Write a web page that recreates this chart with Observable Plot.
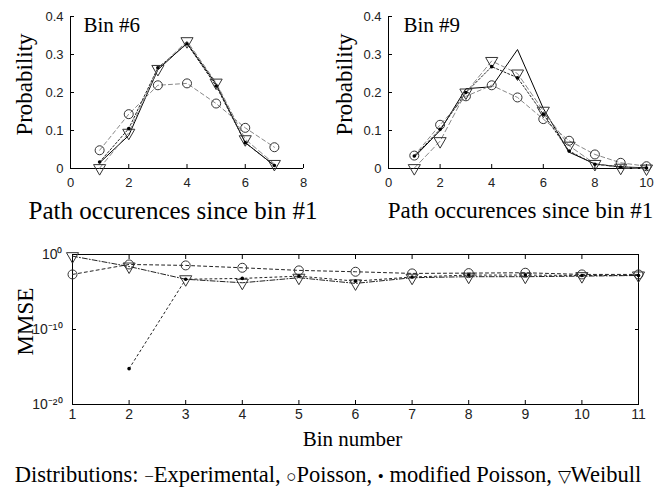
<!DOCTYPE html>
<html>
<head>
<meta charset="utf-8">
<script src="https://cdn.jsdelivr.net/npm/d3@7"></script>
<script src="https://cdn.jsdelivr.net/npm/@observablehq/plot@0.6"></script>
<style>
  body { margin: 0; background: #fff; }
  #wrap { position: relative; width: 656px; height: 488px; overflow: hidden; background: #fff; }
  #wrap > svg { position: absolute; }
  #caption { position: absolute; left: 0; top: 463px; width: 656px; text-align: center;
             font-family: "Liberation Serif", "Times New Roman", serif; font-size: 22.5px; line-height: 24px; color: #000; white-space: nowrap; }
  #caption .sym { font-size: 17px; }
</style>
</head>
<body>
<div id="wrap"><div id="caption">Distributions: <span class="sym">−</span>Experimental, <span class="sym">○</span>Poisson, <span class="sym">•</span> modified Poisson, <span class="sym">▽</span>Weibull</div></div>
<script>
// ---------------- data ----------------
const bin6Occurrences = [1, 2, 3, 4, 5, 6, 7];
const bin6Experimental = [0.015, 0.087, 0.26, 0.33, 0.222, 0.068, 0.008];
const bin6Poisson      = [0.048, 0.143, 0.219, 0.224, 0.171, 0.107, 0.056];
const bin6ModPoisson   = [0.017, 0.105, 0.265, 0.328, 0.217, 0.068, 0.008];
const bin6Weibull      = [0.001, 0.094, 0.262, 0.335, 0.226, 0.077, 0.012];

const bin9Occurrences = [1, 2, 3, 4, 5, 6, 7, 8, 9, 10];
const bin9Experimental = [0.03, 0.1, 0.21, 0.215, 0.313, 0.158, 0.043, 0.012, 0.004, 0.002];
const bin9Poisson      = [0.034, 0.115, 0.19, 0.219, 0.187, 0.13, 0.073, 0.037, 0.015, 0.006];
const bin9ModPoisson   = [0.033, 0.103, 0.2, 0.268, 0.239, 0.143, 0.046, 0.011, 0.004, 0.001];
const bin9Weibull      = [0.001, 0.072, 0.2, 0.283, 0.25, 0.152, 0.06, 0.012, 0.002, 0.0];

const binNumbers     = [1, 2, 3, 4, 5, 6, 7, 8, 9, 10, 11];
const mmsePoisson    = [2.2e-3, 0.047, 0.035, 0.017, 7.6e-3, 5e-3, 3e-3, 3.3e-3, 3.7e-3, 2.2e-3, 2.2e-3];
const mmseModPoisson = [null, 6e-16, 5e-4, 6.5e-4, 1.3e-3, 2.8e-4, 1e-3, 1.8e-3, 1.8e-3, 1.6e-3, 1.6e-3];
const mmseWeibull    = [0.6, 0.025, 5e-4, 1.7e-4, 8e-4, 1.4e-4, 8e-4, 1.1e-3, 1.1e-3, 1.3e-3, 1.6e-3];

const bin6XTicks = [0, 2, 4, 6, 8];
const bin9XTicks = [0, 2, 4, 6, 8, 10];
const probTicks  = [0, 0.1, 0.2, 0.3, 0.4];
const binTicks   = [1, 2, 3, 4, 5, 6, 7, 8, 9, 10, 11];
const mmseTicks  = [1e-20, 1e-10, 1];

// ---------------- helpers ----------------
const serif = "Liberation Serif, Times New Roman, serif";
const sans = "Liberation Sans, Arial, sans-serif";
const rows = (xs, ys) => xs.map((x, i) => ({x, y: ys[i]}));
const supMap = {"0":"⁰","1":"¹","2":"²","3":"³","4":"⁴","5":"⁵","6":"⁶","7":"⁷","8":"⁸","9":"⁹","-":"⁻"};
const sup = s => String(s).split("").map(c => supMap[c] || c).join("");

function seriesMarks(xs, exp, poi, mod, wei, opts = {}) {
  const m = [];
  if (exp) m.push(Plot.line(rows(xs, exp), {x: "x", y: "y", stroke: "#000", strokeWidth: 1}));
  m.push(Plot.line(rows(xs, poi), {x: "x", y: "y", stroke: opts.poiStroke || "#888", strokeWidth: 1, strokeDasharray: opts.poiDash || "4,3"}));
  m.push(Plot.line(rows(xs, mod), {x: "x", y: "y", stroke: "#222", strokeWidth: 1, strokeDasharray: opts.modDash || "2,2"}));
  m.push(Plot.line(rows(xs, wei), {x: "x", y: "y", stroke: opts.weiStroke || "#888", strokeWidth: 1, strokeDasharray: opts.weiDash || "5,3"}));
  m.push(Plot.dot(rows(xs, poi), {x: "x", y: "y", r: 4.5, stroke: "#333", strokeWidth: 1, fill: "none"}));
  m.push(Plot.dot(rows(xs, wei), {x: "x", y: "y", symbol: "triangle", rotate: 180, r: 4.5, stroke: "#333", strokeWidth: 1, fill: "none"}));
  m.push(Plot.dot(rows(xs, mod), {x: "x", y: "y", r: 1.8, fill: "#000", stroke: "none"}));
  return m;
}

function probPanel({xs, exp, poi, mod, wei, xDomain, xTicks, title, width, marginLeft, marginRight, labelSize, labelDx, titleDx, ylabelDx}) {
  return Plot.plot({
    width, height: 230, marginLeft, marginRight, marginTop: 16, marginBottom: 62,
    style: {fontFamily: sans, fontSize: "13px", color: "#000", background: "transparent", overflow: "visible"},
    x: {domain: xDomain, label: null},
    y: {domain: [0, 0.4], label: null},
    marks: [
      Plot.axisX(xTicks, {tickSize: -4, tickPadding: 13, label: null, fontSize: 13, fill: "#222"}),
      Plot.axisY(probTicks, {tickSize: -4, tickPadding: 11, label: null, fontSize: 13, fill: "#222",
        tickFormat: d => d === 0 ? "0" : d.toFixed(1)}),
      Plot.ruleX([xDomain[0]], {stroke: "#000"}),
      Plot.ruleY([0], {stroke: "#000"}),
      ...seriesMarks(xs, exp, poi, mod, wei),
      Plot.text([title], {frameAnchor: "top-left", textAnchor: "start", lineAnchor: "middle", dx: titleDx, dy: 9, fontSize: 21, fontFamily: serif, fill: "#000"}),
      Plot.text(["Probability"], {frameAnchor: "left", textAnchor: "middle", lineAnchor: "middle", rotate: -90, dx: ylabelDx, dy: -8, fontSize: 23, fontFamily: serif, fill: "#000"}),
      Plot.text(["Path occurences since bin #1"], {frameAnchor: "bottom", textAnchor: "middle", lineAnchor: "middle", dx: labelDx, dy: 42, fontSize: labelSize, fontFamily: serif, fill: "#000"})
    ]
  });
}

const wrap = document.getElementById("wrap");

const p1 = probPanel({xs: bin6Occurrences, exp: bin6Experimental, poi: bin6Poisson, mod: bin6ModPoisson, wei: bin6Weibull,
  xDomain: [0, 8], xTicks: bin6XTicks, title: "Bin #6", width: 330, marginLeft: 70, marginRight: 27,
  labelSize: 25, labelDx: -14, titleDx: 13, ylabelDx: -46});
p1.style.left = "0px"; p1.style.top = "0px";

const p2 = probPanel({xs: bin9Occurrences, exp: bin9Experimental, poi: bin9Poisson, mod: bin9ModPoisson, wei: bin9Weibull,
  xDomain: [0, 10], xTicks: bin9XTicks, title: "Bin #9", width: 336, marginLeft: 68, marginRight: 10,
  labelSize: 23, labelDx: 3, titleDx: 15, ylabelDx: -44});
p2.style.left = "320px"; p2.style.top = "0px";

const p3 = Plot.plot({
  width: 656, height: 222, marginLeft: 72, marginRight: 18, marginTop: 24, marginBottom: 48,
  style: {fontFamily: sans, fontSize: "14px", color: "#000", background: "transparent", overflow: "visible"},
  x: {domain: [1, 11], label: null},
  y: {type: "log", domain: [1e-20, 1], label: null},
  marks: [
    Plot.axisX(binTicks, {tickSize: -4, tickPadding: 9, label: null, fontSize: 14, fill: "#222"}),
    Plot.axisX(binTicks, {anchor: "top", tickSize: -4, tickFormat: () => "", label: null}),
    Plot.axisY(mmseTicks, {tickSize: -4, tickPadding: 14, label: null, fontSize: 14, fill: "#222",
      tickFormat: d => "10" + sup(Math.round(Math.log10(d)))}),
    Plot.axisY(mmseTicks, {anchor: "right", tickSize: -4, tickFormat: () => "", label: null}),
    Plot.frame({stroke: "#000"}),
    ...seriesMarks(binNumbers, null, mmsePoisson, mmseModPoisson, mmseWeibull,
      {poiStroke: "#222", weiStroke: "#222", poiDash: "3,3", weiDash: "5,2,1,2", modDash: "2,3"}),
    Plot.text(["MMSE"], {frameAnchor: "left", textAnchor: "middle", lineAnchor: "middle", rotate: -90, dx: -47, dy: -8, fontSize: 23, fontFamily: serif, fill: "#000"}),
    Plot.text(["Bin number"], {frameAnchor: "bottom", textAnchor: "middle", lineAnchor: "middle", dx: -3, dy: 35, fontSize: 21, fontFamily: serif, fill: "#000"})
  ]
});
p3.style.left = "0px"; p3.style.top = "230px";

wrap.appendChild(p1);
wrap.appendChild(p2);
wrap.appendChild(p3);
</script>
</body>
</html>
